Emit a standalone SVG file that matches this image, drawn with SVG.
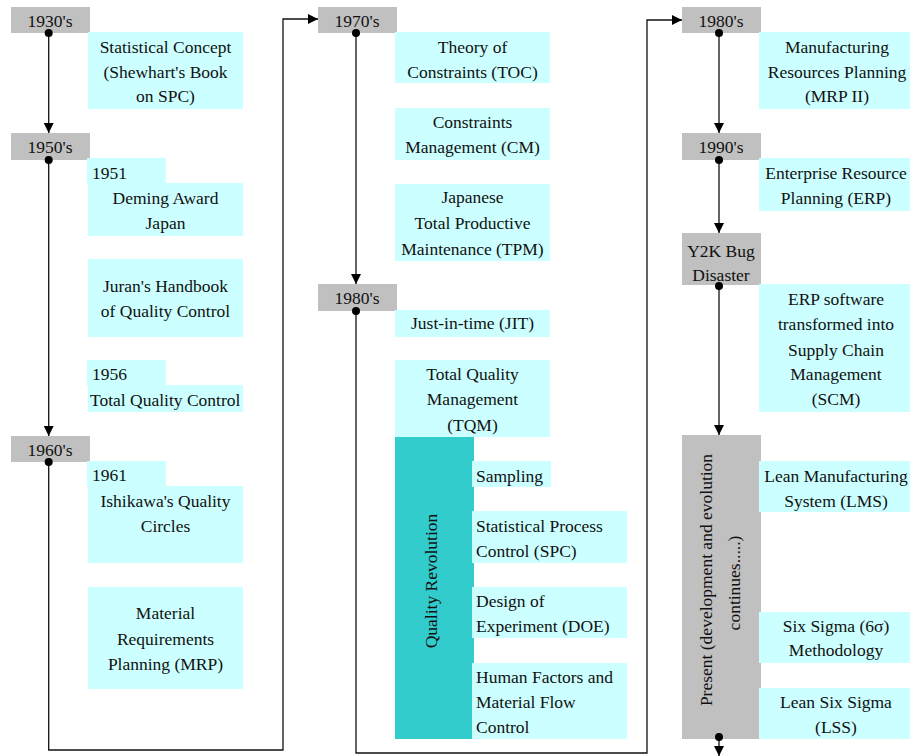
<svg xmlns="http://www.w3.org/2000/svg" width="910" height="756" viewBox="0 0 910 756">
<defs>
<marker id="arr" viewBox="0 0 10 10" refX="10" refY="5" markerWidth="10" markerHeight="10" markerUnits="userSpaceOnUse" orient="auto"><path d="M0,0 L10,5 L0,10 Z" fill="#000"/></marker>
</defs>
<style>
.yr{fill:#c0c0c0}
.ev{fill:#ccffff}
.tl{fill:#33cccc}
.c{text-anchor:middle}
.ln{fill:none;stroke:#111;stroke-width:1.3}
.dot{fill:#000}
</style>
<rect width="910" height="756" fill="#fff"/>

<g id="connectors">
<path class="ln" d="M48.7,33 V133" marker-end="url(#arr)"/>
<path class="ln" d="M48.7,160 V436" marker-end="url(#arr)"/>
<path class="ln" d="M48.7,462 V750 H283 V19 H318" marker-end="url(#arr)"/>
<path class="ln" d="M356,33 V284" marker-end="url(#arr)"/>
<path class="ln" d="M356,311 V753 H647 V20 H682" marker-end="url(#arr)"/>
<path class="ln" d="M719,33 V133" marker-end="url(#arr)"/>
<path class="ln" d="M719,160 V233" marker-end="url(#arr)"/>
<path class="ln" d="M719,286 V435" marker-end="url(#arr)"/>
<path class="ln" d="M719,737 V756" marker-end="url(#arr)"/>
</g>

<g font-family="'Liberation Serif', 'Times New Roman', serif" font-size="17.5" fill="#111">
<g id="y1930"><rect class="yr" x="11" y="7" width="79" height="26"/><text class="c" x="50" y="27">1930's</text><circle class="dot" cx="48.7" cy="33" r="4"/></g>
<g id="n-spc-concept"><rect class="ev" x="88" y="32" width="155" height="77"/><text class="c" x="165.5" y="53">Statistical Concept</text><text class="c" x="165.5" y="77.5">(Shewhart's Book</text><text class="c" x="165.5" y="102">on SPC)</text></g>
<g id="y1950"><rect class="yr" x="11" y="133" width="79" height="27"/><text class="c" x="50" y="153">1950's</text><circle class="dot" cx="48.7" cy="160" r="4"/></g>
<g id="n-deming"><rect class="ev" x="87" y="158" width="79" height="26"/><rect class="ev" x="88" y="183" width="155" height="53"/><text x="92" y="179">1951</text><text class="c" x="165.5" y="204">Deming Award</text><text class="c" x="165.5" y="229">Japan</text></g>
<g id="n-juran"><rect class="ev" x="88" y="259" width="155" height="78"/><text class="c" x="165.5" y="292">Juran's Handbook</text><text class="c" x="165.5" y="317">of Quality Control</text></g>
<g id="n-tqc"><rect class="ev" x="87" y="360" width="79" height="26"/><rect class="ev" x="88" y="385" width="155" height="27"/><text x="92" y="380">1956</text><text x="90" y="406">Total Quality Control</text></g>
<g id="y1960"><rect class="yr" x="11" y="436" width="79" height="26"/><text class="c" x="50" y="456">1960's</text><circle class="dot" cx="48.7" cy="462" r="4"/></g>
<g id="n-ishikawa"><rect class="ev" x="87" y="461" width="79" height="26"/><rect class="ev" x="88" y="486" width="155" height="77"/><text x="92" y="481">1961</text><text class="c" x="165.5" y="507">Ishikawa's Quality</text><text class="c" x="165.5" y="532">Circles</text></g>
<g id="n-mrp"><rect class="ev" x="88" y="587" width="155" height="102"/><text class="c" x="165.5" y="619">Material</text><text class="c" x="165.5" y="645">Requirements</text><text class="c" x="165.5" y="670">Planning (MRP)</text></g>

<g id="y1970"><rect class="yr" x="318" y="7" width="79" height="26"/><text class="c" x="357" y="27">1970's</text><circle class="dot" cx="356" cy="33" r="4"/></g>
<g id="n-toc"><rect class="ev" x="395" y="32" width="155" height="51"/><text class="c" x="472.5" y="53">Theory of</text><text class="c" x="472.5" y="78">Constraints (TOC)</text></g>
<g id="n-cm"><rect class="ev" x="395" y="108" width="155" height="52"/><text class="c" x="472.5" y="128">Constraints</text><text class="c" x="472.5" y="153">Management (CM)</text></g>
<g id="n-tpm"><rect class="ev" x="395" y="184" width="155" height="77"/><text class="c" x="472.5" y="203">Japanese</text><text class="c" x="472.5" y="229">Total Productive</text><text class="c" x="472.5" y="255">Maintenance (TPM)</text></g>
<g id="y1980a"><rect class="yr" x="318" y="284" width="79" height="27"/><text class="c" x="357" y="304">1980's</text><circle class="dot" cx="356" cy="311" r="4"/></g>
<g id="n-jit"><rect class="ev" x="395" y="310" width="155" height="27"/><text class="c" x="472.5" y="329">Just-in-time (JIT)</text></g>
<g id="n-tqm"><rect class="ev" x="395" y="360" width="155" height="77"/><text class="c" x="472.5" y="380">Total Quality</text><text class="c" x="472.5" y="405">Management</text><text class="c" x="472.5" y="431">(TQM)</text></g>
<g id="n-qr"><rect class="tl" x="395" y="437" width="79" height="302"/><text class="c" transform="translate(437,581) rotate(-90)">Quality Revolution</text></g>
<g id="n-sampling"><rect class="ev" x="472" y="461" width="79" height="26"/><text x="476" y="482">Sampling</text></g>
<g id="n-spc"><rect class="ev" x="472" y="511" width="155" height="52"/><text x="476" y="532">Statistical Process</text><text x="476" y="557">Control (SPC)</text></g>
<g id="n-doe"><rect class="ev" x="472" y="587" width="155" height="51"/><text x="476" y="607">Design of</text><text x="476" y="632">Experiment (DOE)</text></g>
<g id="n-hf"><rect class="ev" x="472" y="663" width="155" height="76"/><text x="476" y="683">Human Factors and</text><text x="476" y="708">Material Flow</text><text x="476" y="733">Control</text></g>

<g id="y1980b"><rect class="yr" x="682" y="7" width="79" height="26"/><text class="c" x="721" y="27">1980's</text><circle class="dot" cx="719" cy="33" r="4"/></g>
<g id="n-mrp2"><rect class="ev" x="759" y="32" width="156" height="77"/><text class="c" x="837" y="53">Manufacturing</text><text class="c" x="837" y="77.5">Resources Planning</text><text class="c" x="837" y="102">(MRP II)</text></g>
<g id="y1990"><rect class="yr" x="682" y="133" width="79" height="27"/><text class="c" x="721" y="153">1990's</text><circle class="dot" cx="719" cy="160" r="4"/></g>
<g id="n-erp"><rect class="ev" x="759" y="158" width="156" height="53"/><text class="c" x="836" y="179">Enterprise Resource</text><text class="c" x="836" y="204">Planning (ERP)</text></g>
<g id="y2k"><rect class="yr" x="682" y="233" width="79" height="52"/><text class="c" x="721" y="257">Y2K Bug</text><text class="c" x="721" y="281">Disaster</text><circle class="dot" cx="719" cy="286" r="4"/></g>
<g id="n-scm"><rect class="ev" x="759" y="284" width="156" height="128"/><text class="c" x="836" y="305">ERP software</text><text class="c" x="836" y="330">transformed into</text><text class="c" x="836" y="356">Supply Chain</text><text class="c" x="836" y="380">Management</text><text class="c" x="836" y="405">(SCM)</text></g>
<g id="present"><rect class="yr" x="682" y="435" width="79" height="304"/><text class="c" transform="translate(712,580) rotate(-90)">Present (development and evolution</text><text class="c" transform="translate(740,583) rotate(-90)">continues.....)</text><circle class="dot" cx="719" cy="737" r="4"/></g>
<g id="n-lms"><rect class="ev" x="759" y="461" width="156" height="51"/><text class="c" x="836" y="482">Lean Manufacturing</text><text class="c" x="836" y="507">System (LMS)</text></g>
<g id="n-6s"><rect class="ev" x="759" y="612" width="156" height="51"/><text class="c" x="836" y="632">Six Sigma (6σ)</text><text class="c" x="836" y="656">Methodology</text></g>
<g id="n-lss"><rect class="ev" x="759" y="688" width="156" height="51"/><text class="c" x="836" y="708">Lean Six Sigma</text><text class="c" x="836" y="733">(LSS)</text></g>
</g>
</svg>
